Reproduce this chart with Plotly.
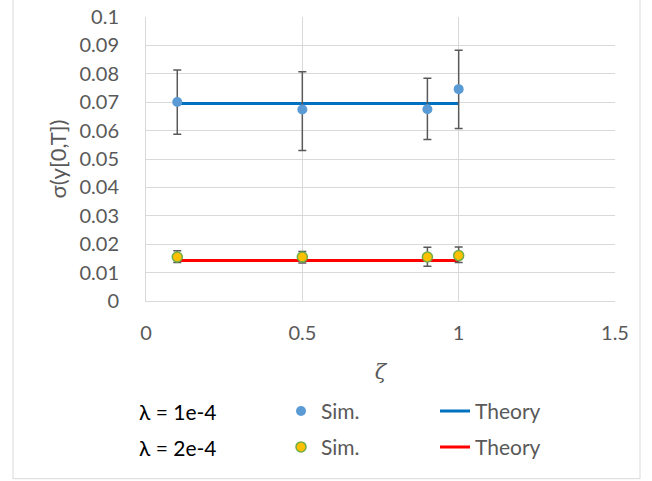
import plotly.graph_objects as go

# ---- data ----
zeta = [0.1, 0.5, 0.9, 1.0]

sim1 = [0.0701, 0.0674, 0.0675, 0.0746]
sim1_hi = [0.0813, 0.0807, 0.0784, 0.0883]
sim1_lo = [0.0587, 0.0530, 0.0569, 0.0607]
theory1 = [0.0695, 0.0695, 0.0695, 0.0695]

sim2 = [0.0155, 0.0155, 0.0155, 0.0160]
sim2_hi = [0.0177, 0.0174, 0.0189, 0.0190]
sim2_lo = [0.0136, 0.0134, 0.0122, 0.0136]
theory2 = [0.0143, 0.0143, 0.0143, 0.0143]

row_labels = ["λ = 1e-4", "λ = 2e-4"]
x_ticks = [0, 0.5, 1, 1.5]
y_ticks = [round(i * 0.01, 2) for i in range(11)]

FONT = "Lato"
GRAY = "#595959"
GRID = "#D9D9D9"

# ---- layout geometry (window pixels; body margin removed via post_script) ----
W, H = 652, 481
PLOT_L, PLOT_R, PLOT_T, PLOT_B = 146, 615, 17, 301.5
L, T = PLOT_L, PLOT_T
R = W - PLOT_R
B = H - PLOT_B
PW, PH = PLOT_R - PLOT_L, PLOT_B - PLOT_T


def px(xw):
    return (xw - PLOT_L) / PW


def py(yw):
    return (PLOT_B - yw) / PH


fig = go.Figure()

err_style = dict(color=GRAY, thickness=1.5, width=4)

fig.add_trace(go.Scatter(
    x=zeta, y=theory1, mode="lines", name="Theory",
    line=dict(color="#0070C0", width=3), legend="legend2"))
fig.add_trace(go.Scatter(
    x=zeta, y=theory2, mode="lines", name="Theory",
    line=dict(color="#FF0000", width=3), legend="legend4"))
fig.add_trace(go.Scatter(
    x=zeta, y=sim1, mode="markers", name="Sim.",
    marker=dict(color="#5B9BD5", size=10, line=dict(width=0)),
    error_y=dict(type="data", symmetric=False,
                 array=[h - v for h, v in zip(sim1_hi, sim1)],
                 arrayminus=[v - l for l, v in zip(sim1_lo, sim1)], **err_style),
    legend="legend"))
fig.add_trace(go.Scatter(
    x=zeta, y=sim2, mode="markers", name="Sim.",
    marker=dict(color="#FFC000", size=10, line=dict(color="#70AD47", width=1.5)),
    error_y=dict(type="data", symmetric=False,
                 array=[h - v for h, v in zip(sim2_hi, sim2)],
                 arrayminus=[v - l for l, v in zip(sim2_lo, sim2)], **err_style),
    legend="legend3"))

FS_TICK = 20
FS_LEG = 21
leg_common = dict(font=dict(family=FONT, size=FS_LEG, color=GRAY),
                  bgcolor="rgba(0,0,0,0)", xanchor="left", yanchor="middle",
                  itemclick=False, itemdoubleclick=False)
row_y = [412, 448]

fig.update_layout(
    width=W, height=H,
    margin=dict(l=L, r=R, t=T, b=B, autoexpand=False),
    paper_bgcolor="white", plot_bgcolor="white",
    font=dict(family=FONT, size=FS_TICK, color=GRAY),
    xaxis=dict(range=[0, 1.5], tickvals=x_ticks, ticktext=[str(v) for v in x_ticks],
               showgrid=True, gridcolor=GRID, gridwidth=1,
               showline=True, linecolor=GRID, linewidth=1,
               zeroline=False, ticks="", ticklabelstandoff=14, ticklabeloverflow="allow",
               title=dict(text="<i>ζ</i>", font=dict(family="DejaVu Serif", size=21, color=GRAY), standoff=21)),
    yaxis=dict(range=[0, 0.1], tickvals=y_ticks, ticktext=[f"{v:g}" for v in y_ticks],
               showgrid=True, gridcolor=GRID, gridwidth=1,
               showline=True, linecolor=GRID, linewidth=1,
               zeroline=False, ticks="", ticklabelstandoff=22, ticklabeloverflow="allow",
               title=dict(text="σ(y[0,T])", font=dict(family=FONT, size=22, color=GRAY), standoff=6)),
    legend=dict(x=px(281), y=py(row_y[0]), **leg_common),
    legend2=dict(x=px(435), y=py(row_y[0]), **leg_common),
    legend3=dict(x=px(281), y=py(row_y[1]), **leg_common),
    legend4=dict(x=px(435), y=py(row_y[1]), **leg_common),
    showlegend=True,
    hovermode=False,
)

for lab, yy in zip(row_labels, row_y):
    fig.add_annotation(text=lab, xref="paper", yref="paper", x=px(219), y=py(yy),
                       xanchor="right", yanchor="middle", showarrow=False,
                       font=dict(family=FONT, size=FS_LEG, color="black"))

# outer chart frame
fig.add_shape(type="rect", xref="paper", yref="paper",
              x0=px(13), x1=px(640), y0=py(479.5), y1=py(-10),
              line=dict(color=GRID, width=1), layer="below")

fig.write_html("out.html",
               config={"displayModeBar": False},
               post_script="document.body.style.margin='0';document.body.style.overflow='hidden';")
